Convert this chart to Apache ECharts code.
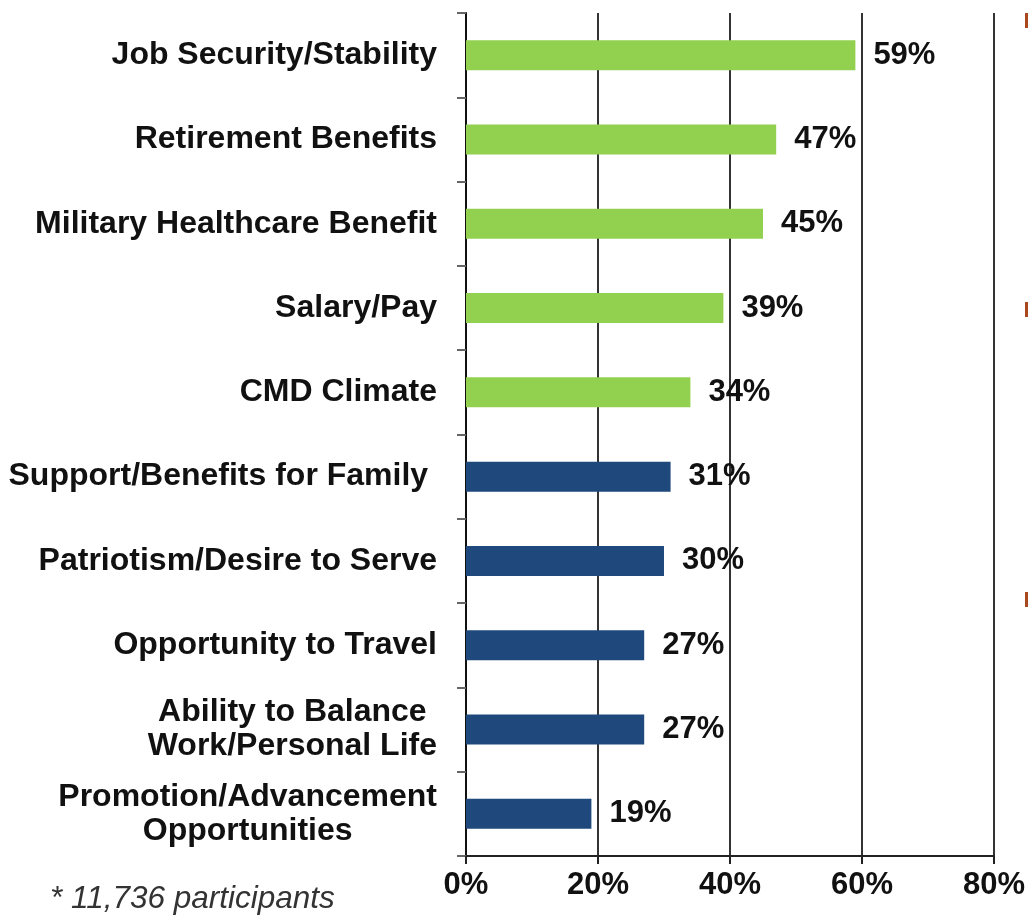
<!DOCTYPE html>
<html>
<head>
<meta charset="utf-8">
<script src="https://cdn.jsdelivr.net/npm/echarts@6/dist/echarts.min.js"></script>
<style>
  html, body { margin: 0; padding: 0; background: #fff; }
  #chart { width: 1028px; height: 915px; }
</style>
</head>
<body>
<div id="chart"></div>
<script>
// reasons, top to bottom
var reasons = [
  'Job Security/Stability',
  'Retirement Benefits',
  'Military Healthcare Benefit',
  'Salary/Pay',
  'CMD Climate',
  'Support/Benefits for Family ',
  'Patriotism/Desire to Serve',
  'Opportunity to Travel',
  'Ability to Balance\nWork/Personal Life',
  'Promotion/Advancement\nOpportunities'
];
var percents = [59, 47, 45, 39, 34, 31, 30, 27, 27, 19];
// first five green, rest navy
var topGroup = 5;
var xTicks = [0, 20, 40, 60, 80];

var GREEN = '#92d050';
var NAVY = '#1f497d';
var FONT = '"Liberation Sans", Arial, sans-serif';

var chart = echarts.init(document.getElementById('chart'));

var option = {
  animation: false,
  backgroundColor: '#fff',
  grid: { left: 466, right: 33, top: 13, bottom: 59 },
  xAxis: {
    type: 'value',
    min: xTicks[0],
    max: xTicks[xTicks.length - 1],
    interval: xTicks[1] - xTicks[0],
    axisLine: { show: true, lineStyle: { color: '#222', width: 2 } },
    axisTick: { show: true, length: 8, lineStyle: { color: '#222', width: 2 } },
    axisLabel: {
      formatter: '{value}%',
      margin: 14,
      fontFamily: FONT,
      fontSize: 31,
      fontWeight: 'bold',
      color: '#111'
    },
    splitLine: { show: true, lineStyle: { color: '#333', width: 2 } }
  },
  yAxis: {
    type: 'category',
    inverse: true,
    data: reasons,
    axisLine: { show: true, lineStyle: { color: '#111', width: 2 } },
    axisTick: { show: true, length: 9, lineStyle: { color: '#666', width: 2 } },
    axisLabel: {
      margin: 29,
      formatter: function (v) {
        return v.split('\n').map(function (s) { return '{c|' + s + '}'; }).join('\n');
      },
      rich: {
        c: {
          align: 'center',
          fontFamily: FONT,
          fontSize: 32,
          fontWeight: 'bold',
          lineHeight: 34,
          color: '#111'
        }
      }
    }
  },
  series: [{
    type: 'bar',
    barWidth: 30,
    data: percents.map(function (v, i) {
      return { value: v, itemStyle: { color: i < topGroup ? GREEN : NAVY } };
    }),
    label: {
      show: true,
      position: 'right',
      distance: 18,
      formatter: '{c}%',
      fontFamily: FONT,
      fontSize: 31,
      fontWeight: 'bold',
      color: '#111'
    }
  }],
  graphic: [
    {
      type: 'text',
      left: 50,
      top: 883,
      style: {
        text: '* 11,736 participants',
        font: 'italic 31.5px "Liberation Sans", Arial, sans-serif',
        fill: '#333'
      }
    },
    { type: 'rect', shape: { x: 1025, y: 13, width: 4, height: 15 }, style: { fill: '#a8481c' } },
    { type: 'rect', shape: { x: 1025, y: 302, width: 4, height: 15 }, style: { fill: '#a8481c' } },
    { type: 'rect', shape: { x: 1025, y: 592, width: 4, height: 15 }, style: { fill: '#a8481c' } }
  ]
};

chart.setOption(option);

window.addEventListener('resize', function () {
  chart.resize();
});
</script>
</body>
</html>
